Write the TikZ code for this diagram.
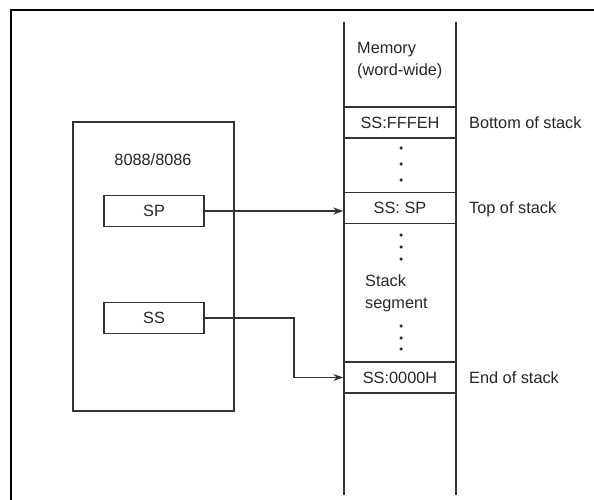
\documentclass[tikz,border=0pt]{standalone}
\usepackage{fontspec}
\setmainfont{Liberation Sans}
\usetikzlibrary{arrows.meta}
\begin{document}
\begin{tikzpicture}[x=1pt,y=-1pt,
  every node/.style={font=\fontsize{16.3}{22}\selectfont, text=black!85},
  ln/.style={draw=black!80, line width=1.3pt},
  cell/.style={ln, minimum width=112pt, minimum height=31pt, inner sep=0pt},
  reg/.style={ln, minimum width=100pt, minimum height=31pt, inner sep=0pt},
  lbl/.style={anchor=west, inner sep=0pt},
  dotmark/.style={circle, fill=black!85, minimum size=3.5pt, inner sep=0pt},
  arr/.style={ln, -{Stealth[length=10pt,width=7pt]}}]
\useasboundingbox (0,0) rectangle (594,500);
% frame
\draw[line width=2.4pt, black] (11,500) -- (11,10) -- (594,10);
% memory column
\coordinate (mtl) at (344,22);
\coordinate (mbl) at (344,495);
\coordinate (mtr) at (456,22);
\coordinate (mbr) at (456,495);
\draw[ln] (mtl) -- (mbl);
\draw[ln] (mtr) -- (mbr);
\node[lbl, align=left] (mem) at (357,61) {Memory\\(word-wide)};
\node[cell] (bot) at (400,122.5) {SS:FFFEH};
\node[cell] (top) at (400,208) {SS: SP};
\node[cell] (endc) at (400,377.5) {SS:0000H};
\node[lbl] (botl) at (469,123) {Bottom of stack};
\node[lbl] (topl) at (469,209) {Top of stack};
\node[lbl] (endl) at (469,378) {End of stack};
\foreach \y [count=\i] in {148,164,180,235,247,259,326,338,349}
  \node[dotmark] (d\i) at (401,\y) {};
\node[lbl, align=left] (seg) at (365,293) {Stack\\segment};
% CPU
\node[ln, minimum width=161pt, minimum height=289pt, inner sep=0pt] (cpu) at (153.5,266.5) {};
\node (cpuname) at (153,160) {8088/8086};
\node[reg] (sp) at (154,211) {SP};
\node[reg] (ss) at (154,318) {SS};
\coordinate (bend) at (294,0);
% connectors
\draw[arr] (sp.east) -- (sp.east -| top.west);
\draw[arr] (ss.east) -- (ss.east -| bend) |- (endc.west);
\end{tikzpicture}
\end{document}
